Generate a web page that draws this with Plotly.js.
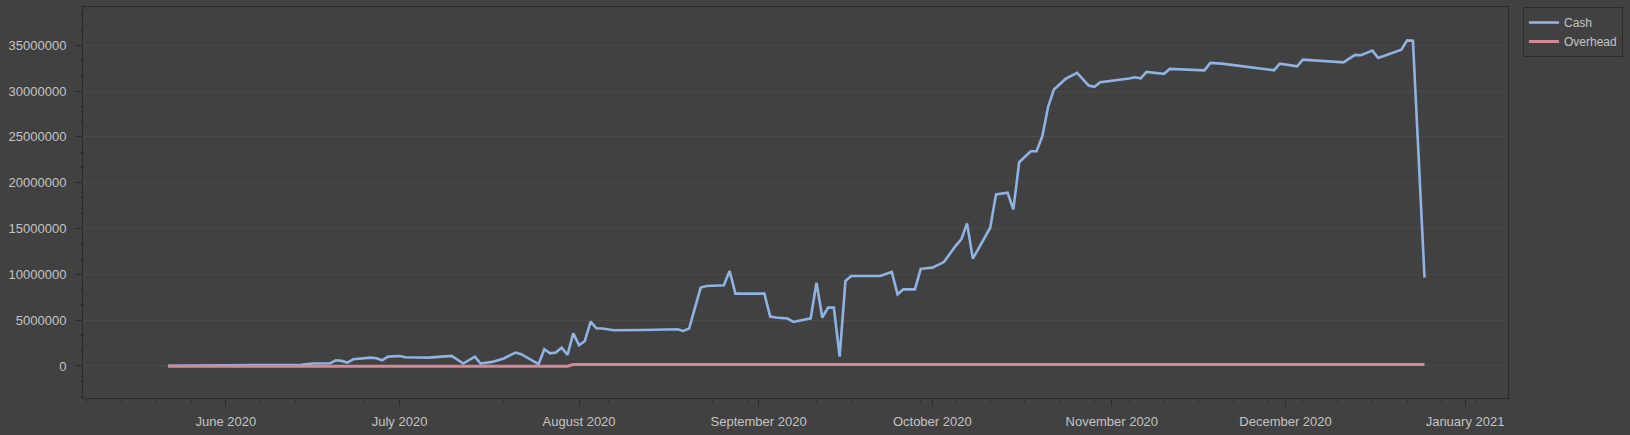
<!DOCTYPE html>
<html>
<head>
<meta charset="utf-8">
<script src="https://cdn.plot.ly/plotly-3.0.1.min.js"></script>
<style>
  html, body { margin: 0; padding: 0; background: #414141; }
  #chart { width: 1630px; height: 435px; }
</style>
</head>
<body>
<div id="chart"></div>
<script>
const dates = [
  "2020-05-22","2020-05-28","2020-06-04","2020-06-11","2020-06-14","2020-06-16","2020-06-19","2020-06-20",
  "2020-06-21","2020-06-22","2020-06-23","2020-06-26","2020-06-27","2020-06-28","2020-06-29","2020-07-01",
  "2020-07-02","2020-07-06","2020-07-10","2020-07-12","2020-07-14","2020-07-15","2020-07-17","2020-07-19",
  "2020-07-21","2020-07-22","2020-07-25","2020-07-26","2020-07-27","2020-07-28","2020-07-29","2020-07-30",
  "2020-07-31","2020-08-01","2020-08-02","2020-08-03","2020-08-04","2020-08-05","2020-08-07","2020-08-12",
  "2020-08-16","2020-08-18","2020-08-19","2020-08-20","2020-08-22","2020-08-23","2020-08-26","2020-08-27",
  "2020-08-28","2020-09-02","2020-09-03","2020-09-04","2020-09-06","2020-09-07","2020-09-10","2020-09-11",
  "2020-09-12","2020-09-13","2020-09-14","2020-09-15","2020-09-16","2020-09-17","2020-09-22","2020-09-24",
  "2020-09-25","2020-09-26","2020-09-28","2020-09-29","2020-10-01","2020-10-03","2020-10-05","2020-10-06",
  "2020-10-07","2020-10-08","2020-10-11","2020-10-12","2020-10-14","2020-10-15","2020-10-16","2020-10-18",
  "2020-10-19","2020-10-20","2020-10-21","2020-10-22","2020-10-24","2020-10-26","2020-10-28","2020-10-29",
  "2020-10-30","2020-11-02","2020-11-04","2020-11-05","2020-11-06","2020-11-07","2020-11-10","2020-11-11",
  "2020-11-17","2020-11-18","2020-11-20","2020-11-29","2020-11-30","2020-12-03","2020-12-04","2020-12-11",
  "2020-12-13","2020-12-14","2020-12-16","2020-12-17","2020-12-21","2020-12-22","2020-12-23","2020-12-25"
];

const cash = [
  20000, 40000, 50000, 70000, 120000, 260000, 290000, 620000,
  550000, 370000, 730000, 910000, 840000, 620000, 1020000, 1090000,
  950000, 910000, 1090000, 260000, 1020000, 260000, 440000, 810000,
  1460000, 1280000, 190000, 1820000, 1380000, 1460000, 2000000, 1200000,
  3560000, 2260000, 2730000, 4840000, 4110000, 4080000, 3890000, 3920000,
  3950000, 4000000, 3820000, 4080000, 8550000, 8720000, 8800000, 10360000,
  7890000, 7890000, 5390000, 5280000, 5170000, 4800000, 5200000, 9090000,
  5280000, 6370000, 6370000, 1020000, 9270000, 9810000, 9810000, 10250000,
  7820000, 8360000, 8360000, 10600000, 10730000, 11340000, 13090000, 13810000,
  15560000, 11710000, 15090000, 18720000, 18900000, 17080000, 22240000, 23440000,
  23440000, 25080000, 28280000, 30170000, 31330000, 31990000, 30600000, 30460000,
  30960000, 31180000, 31370000, 31510000, 31400000, 32100000, 31880000, 32420000,
  32270000, 33080000, 33000000, 32270000, 33000000, 32710000, 33440000, 33140000,
  33950000, 33910000, 34420000, 33620000, 34530000, 35540000, 35510000, 9640000
];

// Overhead stays near zero: slightly below before August, slightly above after
const overheadBefore = -30000;
const overheadAfter = 150000;
const overheadStep = "2020-07-31";
const overhead = dates.map(d => (d < overheadStep ? overheadBefore : overheadAfter));

const seriesNames = ["Cash", "Overhead"];
const xRange = ["2020-05-07 08:00", "2021-01-08 10:00"];
const yRange = [-3500000, 39180000];

const textColor = "#c4c4c4";
const fontFamily = "Liberation Sans, Arial, sans-serif";

const traces = [
  {
    x: dates, y: cash, name: seriesNames[0], type: "scatter", mode: "lines",
    line: { color: "#8fb3e3", width: 2.6 }
  },
  {
    x: dates, y: overhead, name: seriesNames[1], type: "scatter", mode: "lines",
    line: { color: "#d08a96", width: 3 }
  }
];

const layout = {
  width: 1630, height: 435,
  margin: { l: 83, r: 122, t: 7, b: 37 },
  paper_bgcolor: "#414141",
  plot_bgcolor: "#414141",
  font: { family: fontFamily, size: 13, color: textColor },
  showlegend: true,
  legend: {
    x: 1.0105, xanchor: "left", y: 1, yanchor: "top",
    bgcolor: "#414141", bordercolor: "#2c2c2c", borderwidth: 1,
    font: { family: fontFamily, size: 12, color: textColor },
    itemwidth: 30, tracegroupgap: 0
  },
  xaxis: {
    type: "date",
    range: xRange,
    dtick: "M1",
    tick0: "2020-06-01",
    tickformat: "%B %Y",
    ticks: "outside", ticklen: 7, tickwidth: 1, tickcolor: "#2a2a2a",
    showgrid: false, zeroline: false,
    showline: true, linecolor: "#2a2a2a", linewidth: 1, mirror: true,
    ticklabelstandoff: 4,
    minor: { dtick: 6 * 86400000, tick0: "2020-06-01", ticks: "outside", ticklen: 3, tickcolor: "#2a2a2a", showgrid: false }
  },
  yaxis: {
    range: yRange,
    dtick: 5000000, tick0: 0,
    tickformat: "d",
    ticks: "outside", ticklen: 7, tickwidth: 1, tickcolor: "#2a2a2a",
    showgrid: true, gridcolor: "#4a4a4a", gridwidth: 1,
    zeroline: false,
    showline: true, linecolor: "#2a2a2a", linewidth: 1, mirror: true,
    ticklabelstandoff: 6,
    minor: { dtick: 5000000 / 3, tick0: 0, ticks: "outside", ticklen: 3, tickcolor: "#2a2a2a", showgrid: false }
  }
};

Plotly.newPlot("chart", traces, layout, { staticPlot: true, displayModeBar: false });
</script>
</body>
</html>
